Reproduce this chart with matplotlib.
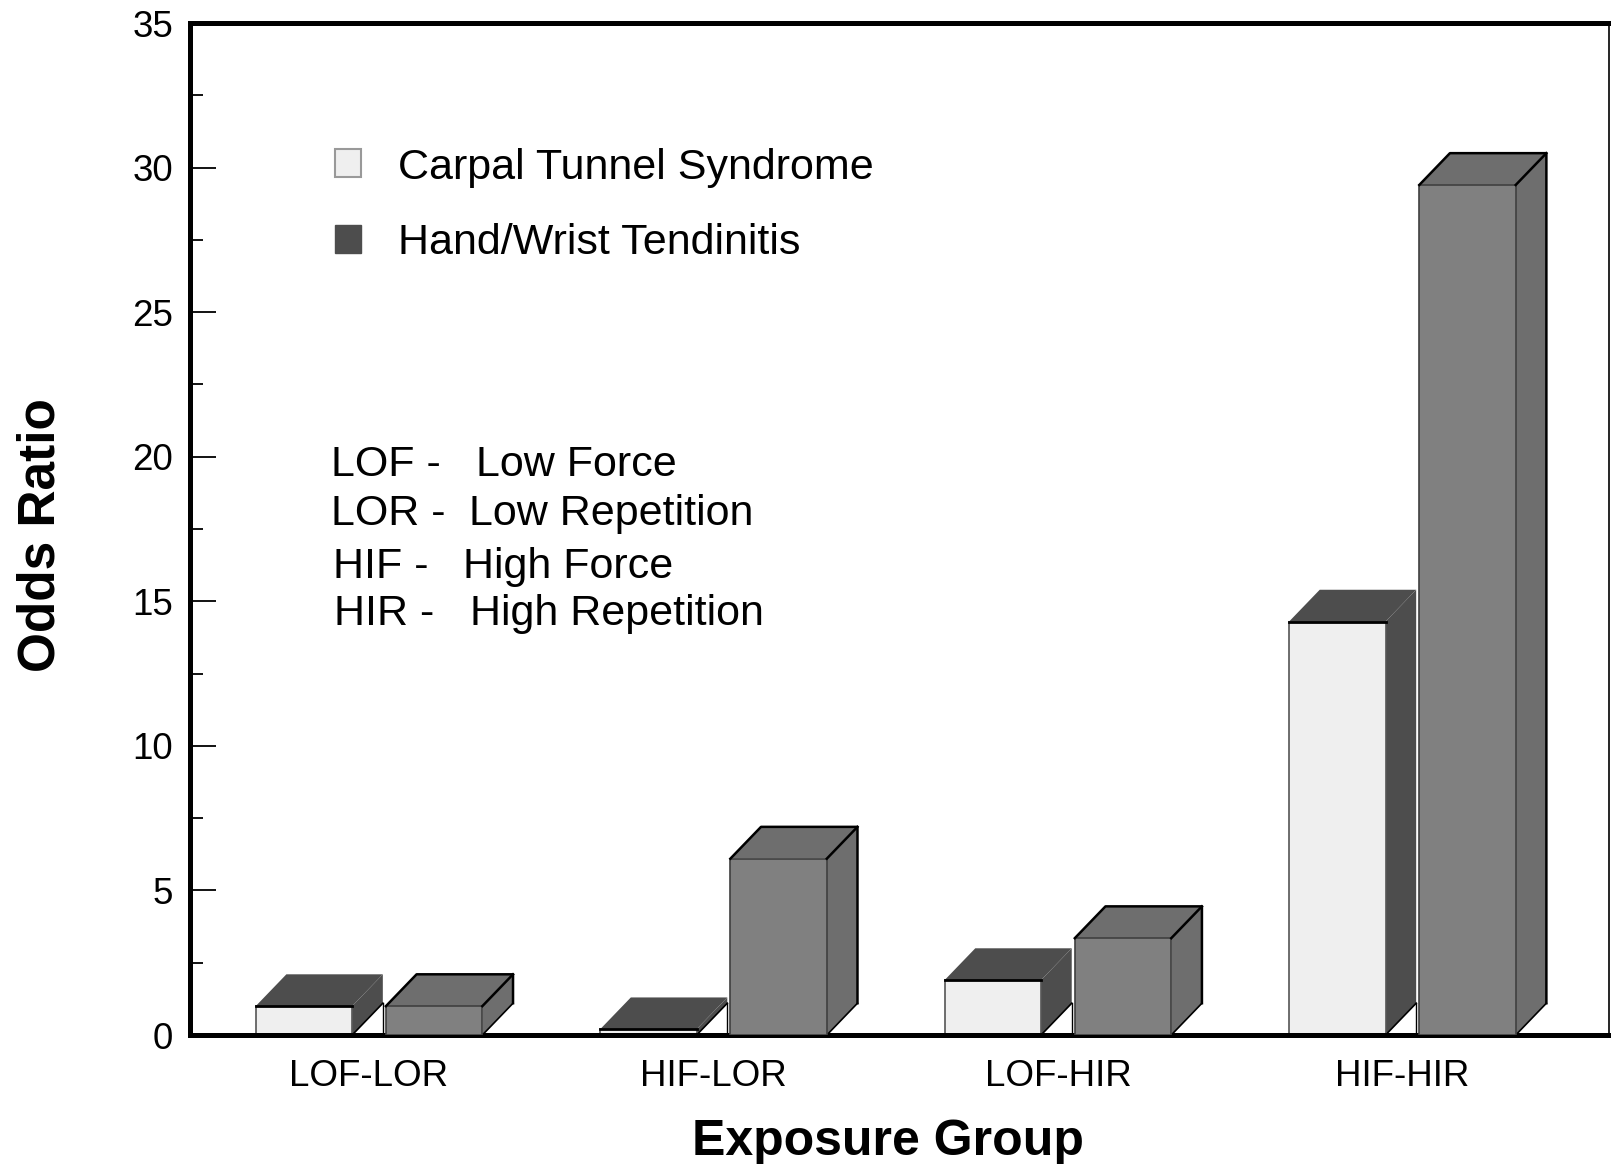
import matplotlib
matplotlib.use("Agg")
import matplotlib.pyplot as plt
from matplotlib.patches import Patch
from matplotlib.ticker import MultipleLocator
import numpy as np

plt.rcParams['font.family'] = ['Liberation Sans', 'DejaVu Sans']

# donnees
groupes = ["LOF-LOR", "HIF-LOR", "LOF-HIR", "HIF-HIR"]
series = ["Carpal Tunnel Syndrome", "Hand/Wrist Tendinitis"]
cts = [1.0, 0.2, 1.9, 14.3]
hwt = [1.0, 6.1, 3.35, 29.4]
abreviations = ["LOF -", "LOR -", "HIF -", "HIR -"]
definitions = ["Low Force", "Low Repetition", "High Force", "High Repetition"]

# couleurs (face avant, dessus, cote)
coul_cts = ("#efefef", "#4d4d4d", "#4d4d4d")
coul_hwt = ("#808080", "#6e6e6e", "#6e6e6e")

largeur = 0.28
decal = 0.189
dx = 0.089   # profondeur 3D en x (donnees)
dy = 1.10    # profondeur 3D en y (donnees)

fig = plt.figure(figsize=(16.11, 11.64), dpi=100)
ax = fig.add_axes([0.1179, 0.1108, 0.8809, 0.8694])


def barre3d(ax, xc, h, coul, contour_avant, z):
    x0 = xc - largeur / 2
    x1 = xc + largeur / 2
    face, dessus, cote = coul
    # cote droit
    ax.fill([x1, x1 + dx, x1 + dx, x1], [0, dy, h + dy, h],
            facecolor=cote, edgecolor="none", zorder=z)
    ax.plot([x1, x1 + dx], [0, dy], color="black", lw=1.2, zorder=z + 0.1)
    # dessus
    ax.fill([x0, x0 + dx, x1 + dx, x1], [h, h + dy, h + dy, h],
            facecolor=dessus, edgecolor="none", zorder=z)
    # face avant
    ax.fill([x0, x1, x1, x0], [0, 0, h, h], facecolor=face,
            edgecolor=contour_avant, lw=1.2, zorder=z + 0.2)
    return x0, x1


for i, g in enumerate(groupes):
    # CTS
    x0, x1 = barre3d(ax, i - decal, cts[i], coul_cts, "#555555", 2)
    ax.plot([x0, x1], [cts[i], cts[i]], color="black", lw=2, zorder=2.3)
    ax.plot([x1 + dx, x1 + dx], [0, dy], color="black", lw=1, zorder=2.1)
    # HWT
    x0, x1 = barre3d(ax, i + decal, hwt[i], coul_hwt, "#404040", 3)
    h = hwt[i]
    ax.plot([x0, x0 + dx, x1 + dx, x1 + dx], [h, h + dy, h + dy, dy],
            color="black", lw=1.8, zorder=3.3)
    ax.plot([x1, x1 + dx], [h, h + dy], color="black", lw=1.8, zorder=3.3)

ax.set_xlim(-0.52, 3.60)
ax.set_ylim(0, 35)
ax.set_xticks(range(len(groupes)))
ax.set_xticklabels(groupes, fontsize=26.5)
ax.tick_params(axis="x", length=0, pad=17)
ax.yaxis.set_major_locator(MultipleLocator(5))
ax.yaxis.set_minor_locator(MultipleLocator(2.5))
ax.tick_params(axis="y", which="major", direction="in", length=19, width=1.3,
               labelsize=26.5, pad=12)
ax.tick_params(axis="y", which="minor", direction="in", length=9, width=1.3)

for cote in ["left", "bottom", "top"]:
    ax.spines[cote].set_linewidth(3.6)
ax.spines["right"].set_linewidth(1.2)

ax.set_ylabel("Odds Ratio", fontsize=37, fontweight="bold", labelpad=48)
ax.set_xlabel("Exposure Group", fontsize=36, fontweight="bold", labelpad=18)
ax.yaxis.label.set_y(0.494)
ax.xaxis.label.set_x(0.492)

poignees = [Patch(facecolor="#efefef", edgecolor="#999999", lw=1.5),
            Patch(facecolor="#4d4d4d", edgecolor="#4d4d4d")]
ax.legend(poignees, series, loc="upper left", bbox_to_anchor=(0.102, 0.877),
          frameon=False, fontsize=31, handlelength=0.62, handleheight=0.62,
          handletextpad=0.85, labelspacing=0.83, borderpad=0, borderaxespad=0)

x_abr = [0.0992, 0.0992, 0.1007, 0.1014]
x_def = [0.2013, 0.1963, 0.1927, 0.1970]
y_lig = [0.552, 0.504, 0.452, 0.405]
for i in range(len(abreviations)):
    ax.text(x_abr[i], y_lig[i], abreviations[i], transform=ax.transAxes,
            fontsize=31, va="baseline", ha="left")
    ax.text(x_def[i], y_lig[i], definitions[i], transform=ax.transAxes,
            fontsize=31, va="baseline", ha="left")

fig.savefig("out.png", dpi=100)
